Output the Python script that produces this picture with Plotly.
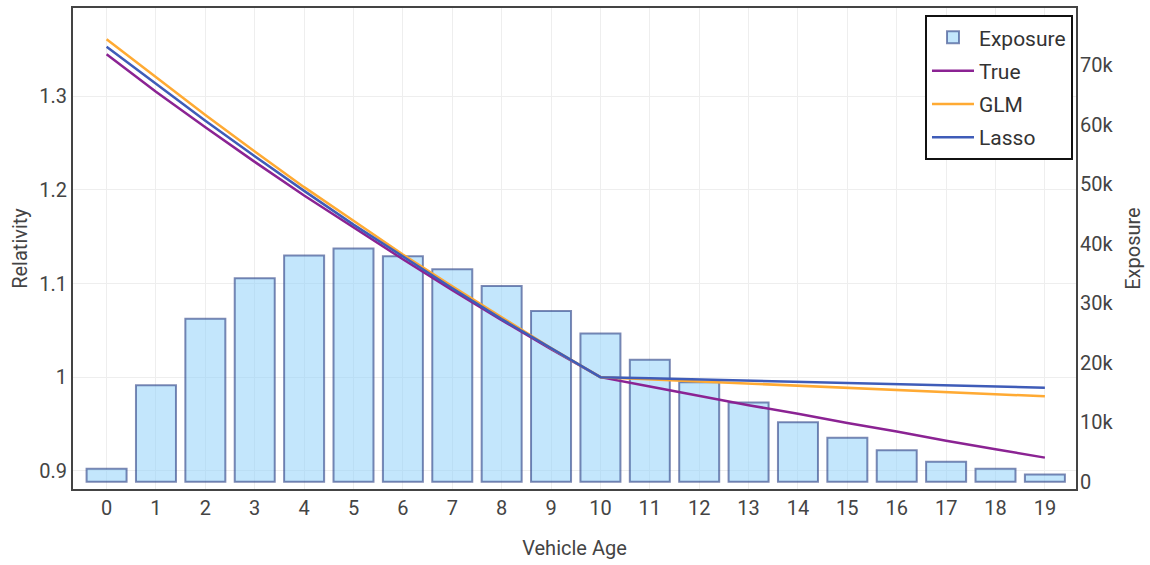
import plotly.graph_objects as go

# Vehicle age bands
ages = list(range(20))

# Exposure per age band
exposure = [2200, 16200, 27400, 34200, 38000, 39200, 37900, 35700, 32900, 28700,
            24900, 20500, 16700, 13300, 10000, 7400, 5300, 3350, 2200, 1200]

# Relativity curves
rel_true = [1.345, 1.305, 1.267, 1.230, 1.194, 1.160, 1.126, 1.093, 1.061, 1.030,
            1.000, 0.990, 0.980, 0.970, 0.961, 0.951, 0.942, 0.932, 0.923, 0.914]
rel_glm = [1.361, 1.320, 1.280, 1.241, 1.203, 1.167, 1.131, 1.097, 1.064, 1.031,
           1.000, 0.9977, 0.9954, 0.9931, 0.9908, 0.9886, 0.9863, 0.9840, 0.9818, 0.9795]
rel_lasso = [1.353, 1.313, 1.274, 1.236, 1.199, 1.163, 1.129, 1.095, 1.062, 1.031,
             1.000, 0.9987, 0.9975, 0.9962, 0.9950, 0.9937, 0.9924, 0.9912, 0.9899, 0.9887]

FONT = "Roboto, Arial, sans-serif"
TXT = "#444"

fig = go.Figure()

# Exposure bars sit on the primary (right-hand) axis so the relativity lines draw over them
fig.add_trace(go.Bar(
    x=ages, y=exposure, name="Exposure", yaxis="y", width=0.81, legendgroup="exp",
    marker=dict(color="rgba(135,206,250,0.5)",
                line=dict(color="rgba(40,60,130,0.6)", width=2)),
))
fig.add_trace(go.Scatter(x=ages, y=rel_true, name="True", mode="lines", yaxis="y2",
                         legendgroup="true", line=dict(color="#8B2393", width=2.5)))
fig.add_trace(go.Scatter(x=ages, y=rel_glm, name="GLM", mode="lines", yaxis="y2",
                         legendgroup="glm", line=dict(color="#FFAA33", width=2.5)))
fig.add_trace(go.Scatter(x=ages, y=rel_lasso, name="Lasso", mode="lines", yaxis="y2",
                         legendgroup="lasso", line=dict(color="#3F5CB8", width=2.5)))

fig.update_layout(
    width=1150, height=565,
    margin=dict(l=73, r=74, t=6, b=76),
    paper_bgcolor="white", plot_bgcolor="white",
    font=dict(family=FONT, size=20, color=TXT),
    showlegend=True,
    legend=dict(x=0.997, y=0.985, xanchor="right", yanchor="top",
                bgcolor="white", bordercolor="#111", borderwidth=2,
                font=dict(size=21, color="#333"), traceorder="grouped",
                tracegroupgap=3, itemwidth=42),
    xaxis=dict(
        title=dict(text="Vehicle Age", standoff=22, font=dict(size=20)),
        range=[-0.68, 19.63], tickmode="array", tickvals=ages,
        ticktext=[str(a) for a in ages], showgrid=True, gridcolor="#EEEEEE",
        gridwidth=1, zeroline=False, showline=True, linecolor="#444",
        linewidth=2, mirror=True, ticks="", ticklabelstandoff=0,
    ),
    yaxis2=dict(
        title=dict(text="Relativity", standoff=6, font=dict(size=20)),
        overlaying="y", side="left",
        range=[0.8805, 1.3944], tickmode="array",
        tickvals=[0.9, 1.0, 1.1, 1.2, 1.3], ticktext=["0.9", "1", "1.1", "1.2", "1.3"],
        showgrid=True, gridcolor="#EEEEEE", zeroline=False, showline=True,
        linecolor="#444", linewidth=2, mirror=True, ticks="", ticklabelstandoff=0,
    ),
    yaxis=dict(
        title=dict(text="Exposure", standoff=13, font=dict(size=20)),
        side="right", range=[-1220, 79600],
        tickmode="array", tickvals=[0, 10000, 20000, 30000, 40000, 50000, 60000, 70000],
        ticktext=["0", "10k", "20k", "30k", "40k", "50k", "60k", "70k"],
        showgrid=False, zeroline=False, showline=False, ticks="",
        ticklabelstandoff=3,
    ),
)

fig.write_html("out.html")
